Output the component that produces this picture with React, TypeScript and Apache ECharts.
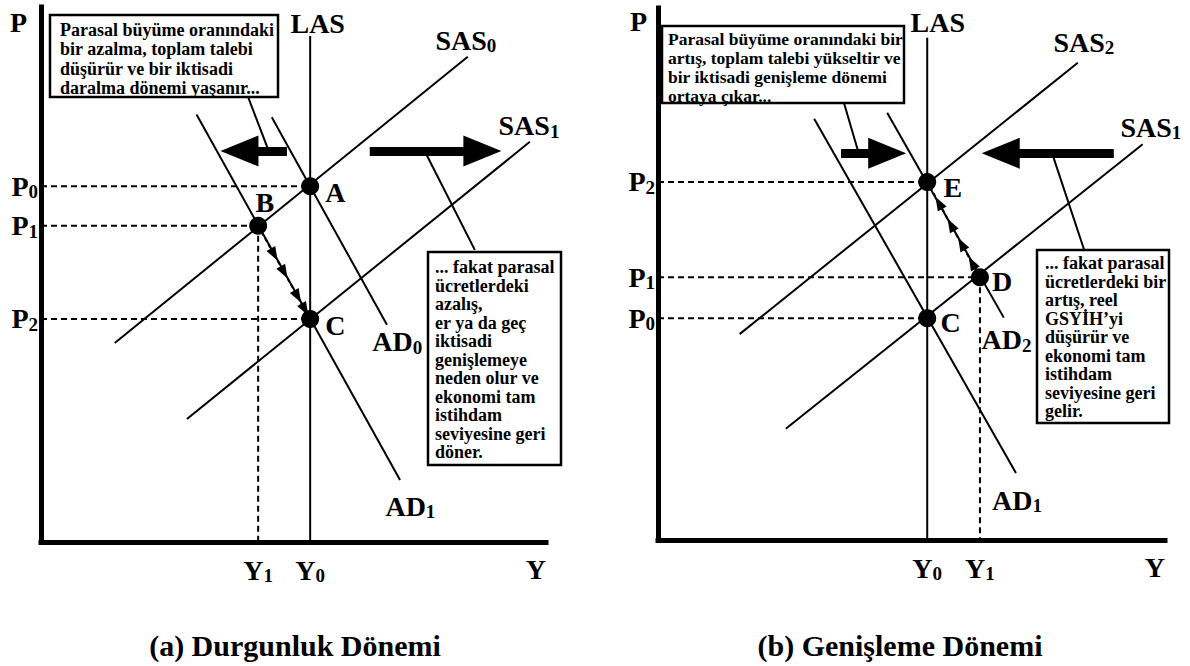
import { useEffect, useRef } from "react";
import * as echarts from "echarts";

const FONT = '"Liberation Serif", "Times New Roman", Times, serif';

// ---------------- Panel (a): Durgunluk Dönemi ----------------
const aY0 = 53.3;
const aY1 = 43.0;
const aP0 = 66.5;
const aP1 = 59.1;
const aP2 = 41.7;
const aLAS = [[aY0, 0], [aY0, 94.6]];
const aSAS0 = [[14.6, 37.2], [84.5, 90.7]];
const aSAS1 = [[28.9, 23.0], [96.8, 74.8]];
const aAD0 = [[45.7, 79.4], [68.5, 40.6]];
const aAD1 = [[30.8, 79.9], [71.1, 11.6]];
const aPoints = [["A", aY0, aP0], ["B", aY1, aP1], ["C", aY0, aP2]];
const aXTicks = [[aY1, "Y", "1"], [aY0, "Y", "0"]];
const aYTicks = [[aP0, "P", "0"], [aP1, "P", "1"], [aP2, "P", "2"]];
const aShiftArrows = [[[48.7, 73.1], [39.3, 73.1]], [[65.1, 73.1], [87.4, 73.1]]];
const aPointers = [[[41.0, 83.2], [44.8, 73.8]], [[76.4, 72.3], [85.9, 54.6]]];
const aPath = [[aY1, aP1], [aY0, aP2]]; // B -> C
const aPathStops = [0, 0.31, 0.5, 0.76, 0.9];
const aCurveLabels = [["LAS", "", 49.3, 97.0], ["SAS", "0", 78.0, 93.8], ["SAS", "1", 90.5, 77.8], ["AD", "0", 65.5, 37.4], ["AD", "1", 68.1, 6.7]];
const aPointLabels = [["A", "", 56.2, 65.4], ["B", "", 42.4, 63.4], ["C", "", 56.2, 40.4]];

// ---------------- Panel (b): Genişleme Dönemi ----------------
const bY0 = 53.1;
const bY1 = 63.5;
const bP0 = 41.7;
const bP1 = 49.4;
const bP2 = 67.3;
const bLAS = [[bY0, 0], [bY0, 94.4]];
const bSAS2 = [[16.1, 38.7], [82.8, 89.7]];
const bSAS1 = [[25.2, 20.9], [95.6, 74.4]];
const bAD2 = [[45.2, 80.3], [68.2, 41.8]];
const bAD1 = [[30.8, 79.2], [70.6, 12.6]];
const bPoints = [["E", bY0, bP2], ["D", bY1, bP1], ["C", bY0, bP0]];
const bXTicks = [[bY0, "Y", "0"], [bY1, "Y", "1"]];
const bYTicks = [[bP2, "P", "2"], [bP1, "P", "1"], [bP0, "P", "0"]];
const bShiftArrows = [[[36.1, 72.7], [45.2, 72.7]], [[89.9, 72.7], [67.6, 72.7]]];
const bPointers = [[[36.7, 82.1], [39.4, 73.3]], [[77.9, 72.2], [84.0, 54.7]]];
const bPath = [[bY1, bP1], [bY0, bP2]]; // D -> E
const bPathStops = [0, 0.15, 0.35, 0.55, 0.78];
const bCurveLabels = [["LAS", "", 49.7, 97.2], ["SAS", "2", 77.9, 93.6], ["SAS", "1", 91.1, 77.6], ["AD", "2", 63.7, 37.6], ["AD", "1", 65.8, 7.5]];
const bPointLabels = [["E", "", 56.2, 66.2], ["D", "", 65.8, 48.5], ["C", "", 55.6, 40.8]];

// ---------------- Texts ----------------
const titleA = "(a) Durgunluk Dönemi";
const titleB = "(b) Genişleme Dönemi";
const boxA1 = "Parasal büyüme oranındaki\nbir azalma, toplam talebi\ndüşürür ve bir iktisadi\ndaralma dönemi yaşanır...";
const boxA2 = "... fakat parasal\nücretlerdeki\nazalış,\ner ya da geç\niktisadi\ngenişlemeye\nneden olur ve\nekonomi tam\nistihdam\nseviyesine geri\ndöner.";
const boxB1 = "Parasal büyüme oranındaki bir\nartış, toplam talebi yükseltir ve\nbir iktisadi genişleme dönemi\nortaya çıkar...";
const boxB2 = "... fakat parasal\nücretlerdeki bir\nartış, reel\nGSYİH’yi\ndüşürür ve\nekonomi tam\nistihdam\nseviyesine geri\ngelir.";

const rich = {
  m: { fontFamily: FONT, fontWeight: "bold", fontSize: 28, lineHeight: 30, color: "#000" },
  s: { fontFamily: FONT, fontWeight: "bold", fontSize: 19, lineHeight: 19, color: "#000", verticalAlign: "bottom" },
};

const fmt = (t: string, s: string) => (s ? `{m|${t}}{s|${s}}` : `{m|${t}}`);

const lerp = (a: number[], b: number[], t: number) => [a[0] + (b[0] - a[0]) * t, a[1] + (b[1] - a[1]) * t];

function tickFormatter(ticks: any[]) {
  return (v: number) => {
    const t = ticks.find((k) => Math.abs(k[0] - v) < 1e-6);
    return t ? fmt(t[1], t[2]) : "";
  };
}

function panelSeries(gi: number, p: any) {
  const base = { xAxisIndex: gi, yAxisIndex: gi, silent: true, animation: false };
  const solid = (data: number[][]) => ({
    ...base, type: "line", data, symbol: "none", lineStyle: { color: "#000", width: 2 }, z: 3,
  });
  const dashed = (data: number[][]) => ({
    ...base, type: "line", data, symbol: "none", lineStyle: { color: "#000", width: 2, type: [6, 4] }, z: 2,
  });

  const mark: any[] = [];
  p.arrows.forEach(([s, e]: number[][]) => {
    mark.push([
      { coord: s, lineStyle: { width: 9, type: "solid", color: "#000" } },
      { coord: e, symbol: "triangle", symbolSize: [31, 38] },
    ]);
  });
  p.pointers.forEach(([s, e]: number[][]) => {
    mark.push([{ coord: s, lineStyle: { width: 2, type: "solid", color: "#000" } }, { coord: e }]);
  });
  const stops = p.stops;
  for (let i = 0; i < stops.length - 1; i++) {
    mark.push([
      { coord: lerp(p.path[0], p.path[1], stops[i]), lineStyle: { width: 2, type: [4, 3], color: "#000" } },
      { coord: lerp(p.path[0], p.path[1], stops[i + 1]), symbol: "triangle", symbolSize: [10, 14] },
    ]);
  }
  mark.push([
    { coord: lerp(p.path[0], p.path[1], stops[stops.length - 1]), lineStyle: { width: 2, type: [4, 3], color: "#000" } },
    { coord: p.path[1] },
  ]);

  const list: any[] = [
    {
      ...solid(p.las),
      markLine: {
        silent: true, animation: false, symbol: ["none", "none"], label: { show: false },
        emphasis: { disabled: true }, lineStyle: { color: "#000", width: 2, type: "solid" }, data: mark,
      },
    },
    ...p.curves.map((c: number[][]) => solid(c)),
    ...p.guides.map((g: number[][]) => dashed(g)),
    {
      ...base, type: "scatter", symbolSize: 18, itemStyle: { color: "#000", opacity: 1 }, z: 5,
      data: p.points.map((q: any[]) => ({ name: q[0], value: [q[1], q[2]] })),
    },
    {
      ...base, type: "scatter", symbolSize: 1, clip: false, itemStyle: { color: "rgba(0,0,0,0)", opacity: 1 }, z: 6,
      label: { show: true, position: "right", distance: 0, rich, opacity: 1 },
      data: p.labels.map((l: any[]) => ({ name: l[0] + l[1], value: [l[2], l[3]], label: { formatter: fmt(l[0], l[1]) } })),
    },
  ];
  return list;
}

function axes(gi: number, xTicks: any[], yTicks: any[], pGap: number, pPad: number) {
  const axisLine = { show: true, onZero: false, lineStyle: { color: "#000", width: 5, cap: "square" } };
  const x = {
    gridIndex: gi, type: "value", min: 0, max: 100, axisLine, axisTick: { show: false }, splitLine: { show: false },
    axisLabel: { customValues: xTicks.map((t) => t[0]), formatter: tickFormatter(xTicks), rich, margin: 13 },
    name: "Y", nameLocation: "end", nameGap: 0,
    nameTextStyle: { fontFamily: FONT, fontWeight: "bold", fontSize: 28, color: "#000", align: "right", verticalAlign: "top", padding: [13, 0, 0, 0] },
  };
  const y = {
    gridIndex: gi, type: "value", min: 0, max: 100, axisLine, axisTick: { show: false }, splitLine: { show: false },
    axisLabel: { customValues: yTicks.map((t) => t[0]), formatter: tickFormatter(yTicks), rich, margin: 3 },
    name: "P", nameLocation: "end", nameGap: pGap,
    nameTextStyle: { fontFamily: FONT, fontWeight: "bold", fontSize: 28, color: "#000", align: "right", verticalAlign: "middle", padding: [0, pPad, 0, 0] },
  };
  return { x, y };
}

function box(x: number, y: number, w: number, h: number, text: string, tx: number, ty: number, size: number, lh: number) {
  return [
    { type: "rect", z: 100, silent: true, shape: { x, y, width: w, height: h }, style: { fill: "#fff", stroke: "#000", lineWidth: 2.5 } },
    {
      type: "text", z: 101, silent: true, x: tx, y: ty,
      style: { text, fill: "#000", font: `bold ${size}px ${FONT}`, lineHeight: lh, align: "left", verticalAlign: "top" },
    },
  ];
}

function buildOption() {
  const pa = {
    las: aLAS, curves: [aSAS0, aSAS1, aAD0, aAD1],
    guides: [[[0, aP0], [aY0, aP0]], [[0, aP1], [aY1, aP1]], [[0, aP2], [aY0, aP2]], [[aY1, aP1], [aY1, 0]]],
    points: aPoints, arrows: aShiftArrows, pointers: aPointers, path: aPath, stops: aPathStops,
    labels: [...aCurveLabels, ...aPointLabels],
  };
  const pb = {
    las: bLAS, curves: [bSAS2, bSAS1, bAD2, bAD1],
    guides: [[[0, bP2], [bY0, bP2]], [[0, bP1], [bY1, bP1]], [[0, bP0], [bY0, bP0]], [[bY1, bP1], [bY1, 0]]],
    points: bPoints, arrows: bShiftArrows, pointers: bPointers, path: bPath, stops: bPathStops,
    labels: [...bCurveLabels, ...bPointLabels],
  };
  const A = axes(0, aXTicks, aYTicks, -15, 14);
  const B = axes(1, bXTicks, bYTicks, -13.5, 11);
  return {
    animation: false,
    backgroundColor: "#fff",
    textStyle: { fontFamily: FONT },
    grid: [
      { left: 41, top: 7, width: 505, height: 535, outerBoundsMode: "none" },
      { left: 658, top: 8, width: 507, height: 532, outerBoundsMode: "none" },
    ],
    xAxis: [A.x, B.x],
    yAxis: [A.y, B.y],
    series: [...panelSeries(0, pa), ...panelSeries(1, pb)],
    graphic: [
      ...box(50, 15, 228, 82, boxA1, 60, 20.3, 18, 19.3),
      ...box(428, 252, 133, 213, boxA2, 435, 257.8, 18, 18.5),
      ...box(662, 26, 242, 77, boxB1, 668, 29.5, 17.5, 19),
      ...box(1037, 250, 132, 173, boxB2, 1045, 253.8, 18, 18.5),
      { type: "text", silent: true, x: 295, y: 645, style: { text: titleA, fill: "#000", font: `bold 30px ${FONT}`, align: "center", verticalAlign: "middle" } },
      { type: "text", silent: true, x: 900, y: 645, style: { text: titleB, fill: "#000", font: `bold 30px ${FONT}`, align: "center", verticalAlign: "middle" } },
    ],
  };
}

export default function App() {
  const ref = useRef<HTMLDivElement>(null);
  useEffect(() => {
    const chart = echarts.init(ref.current!, undefined, { renderer: "svg" });
    chart.setOption(buildOption() as any);
    return () => chart.dispose();
  }, []);
  return (
    <div
      ref={ref}
      style={{ position: "fixed", left: 0, top: 0, width: 1190, height: 666, background: "#fff" }}
    />
  );
}
